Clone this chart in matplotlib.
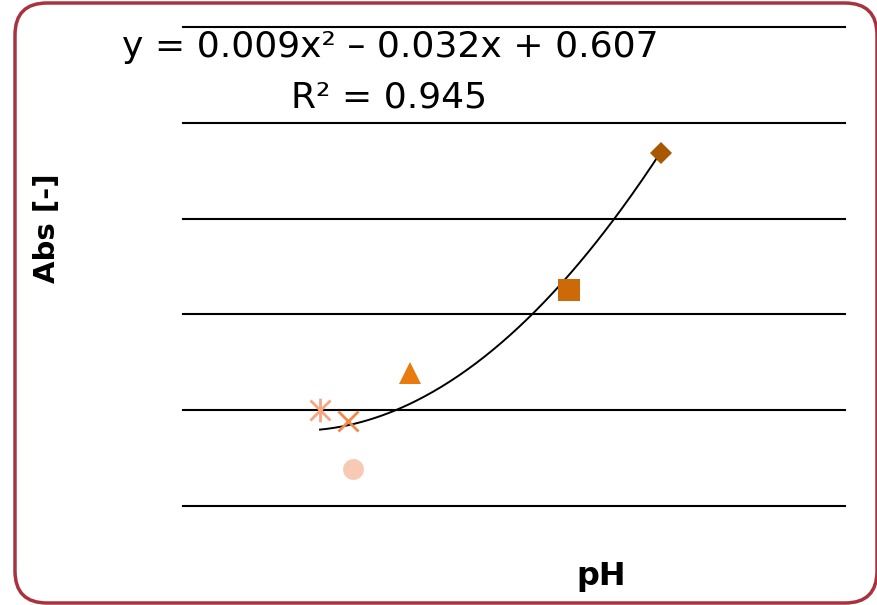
import matplotlib
matplotlib.use("Agg")
import matplotlib.pyplot as plt
import matplotlib.patches as patches
from matplotlib.path import Path
from matplotlib.transforms import IdentityTransform
import numpy as np

# measured points (pH, absorbance), one series per marker style
ph_values = [2.14, 2.58, 2.66, 3.55, 6.03, 7.47]
abs_values = [0.600, 0.589, 0.539, 0.639, 0.725, 0.868]
marker_colors = ['#F5A784', '#F08A4B', '#F8C9B5', '#E87A0E', '#CC6A0A', '#A85800']

# polynomial trendline shown on the chart
trend_coefs = [0.009, -0.032, 0.607]
r_squared = 0.945

y_ticks = [0.5, 0.6, 0.7, 0.8, 0.9, 1.0]

# asterisk: vertical stroke plus an X
star = Path([(0, -1), (0, 1), (-0.85, -0.85), (0.85, 0.85), (-0.85, 0.85), (0.85, -0.85)],
            [Path.MOVETO, Path.LINETO, Path.MOVETO, Path.LINETO, Path.MOVETO, Path.LINETO])

styles = [
    dict(marker=star, ms=17, mew=2.0, mfc='none'),
    dict(marker='x', ms=15, mew=2.0),
    dict(marker='o', ms=15, mew=0),
    dict(marker='^', ms=16, mew=0),
    dict(marker='s', ms=15.5, mew=0),
    dict(marker='D', ms=11.5, mew=0),
]

fig = plt.figure(figsize=(8.78, 6.05), dpi=100)

# rounded red frame around the whole chart (pixel coordinates)
frame = patches.FancyBboxPatch((15, 2), 862, 600,
                               boxstyle="round,pad=0,rounding_size=32",
                               transform=IdentityTransform(), facecolor='none',
                               edgecolor='#A8323E', linewidth=2.5, zorder=-1)
fig.patches.append(frame)

ax = fig.add_axes([183 / 878, 1 - 506 / 605, 662 / 878, 479 / 605])
ax.set_facecolor('none')

ax.set_xlim(0, 10.34)
ax.set_ylim(0.5, 1.0)
ax.set_yticks(y_ticks)
ax.set_xticks([])
ax.tick_params(left=False, labelleft=False)
ax.grid(axis='y', color='black', linewidth=1.5)
for gl in ax.get_ygridlines():
    gl.set_clip_on(False)
for sp in ax.spines.values():
    sp.set_visible(False)

# trendline across the data range
xs = np.linspace(min(ph_values), max(ph_values), 200)
ax.plot(xs, np.polyval(trend_coefs, xs), color='black', linewidth=1.4, zorder=3)

for x, y, c, st in zip(ph_values, abs_values, marker_colors, styles):
    ax.plot([x], [y], linestyle='none', color=c, mec=c,
            mfc=st.pop('mfc', c), zorder=4, clip_on=False, **st)

eq = "y = %.3fx² – %.3fx + %.3f" % (trend_coefs[0], -trend_coefs[1], trend_coefs[2])
fig.text(390 / 878, 1 - 47 / 605, eq, ha='center', va='center', fontsize=26,
         family='DejaVu Sans')
fig.text(389 / 878, 1 - 97 / 605, "R² = %.3f" % r_squared, ha='center', va='center',
         fontsize=26, family='DejaVu Sans')

fig.text(47 / 878, 1 - 228 / 605, "Abs [-]", rotation=90, ha='center', va='center',
         fontsize=21, fontweight='bold')
fig.text(601 / 878, 1 - 577 / 605, "pH", ha='center', va='center',
         fontsize=23, fontweight='bold')

fig.savefig("out.png", dpi=100)
